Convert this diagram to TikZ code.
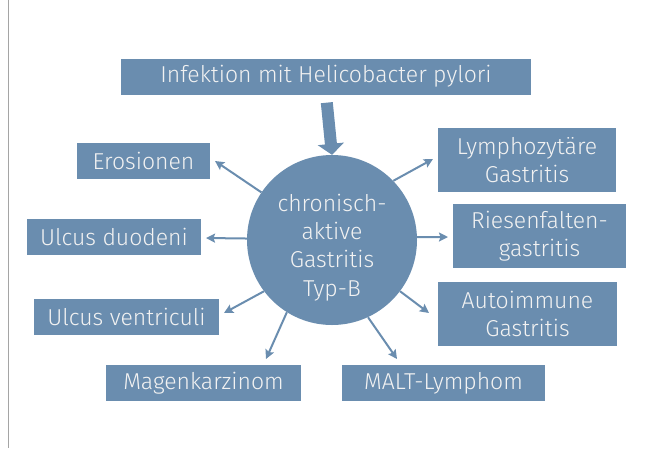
\documentclass[tikz,border=0pt]{standalone}
\usepackage{fontspec}
\setmainfont{Fira Sans Light}
\usetikzlibrary{arrows.meta}
\definecolor{hblue}{RGB}{106,141,175}
\definecolor{hwhite}{RGB}{242,242,242}
\definecolor{hgrey}{RGB}{165,165,165}
\tikzset{
  box/.style={fill=hblue, text=hwhite, inner sep=0pt, align=center,
    font=\fontsize{23}{28.5}\selectfont},
  onebox/.style={box, minimum height=36pt},
  twobox/.style={box, minimum height=64pt},
  hub/.style={circle, fill=hblue, text=hwhite, minimum size=170pt, inner sep=0pt,
    align=center, text height=112pt, text depth=0pt, font=\fontsize{23}{28.3}\selectfont},
  pfeil/.style={draw=hblue, line width=2pt, -{Stealth[length=9pt,width=9pt,inset=1.5pt]}},
}

\begin{document}
\begin{tikzpicture}[x=1pt,y=-1pt]
\useasboundingbox (0,0) rectangle (650,448);
\draw[hgrey, line width=1.5pt] (8.3,0) -- (8.3,448);

\node[onebox, minimum width=410pt] (infekt) at (326,76.5) {Infektion mit Helicobacter pylori};
\node[hub] (gastr) at (332,240) {chronisch-\\aktive\\Gastritis\\Typ-B};

\node[onebox, minimum width=133pt] (eros) at (143.5,161) {Erosionen};
\node[onebox, minimum width=174pt] (duod) at (114,237) {Ulcus duodeni};
\node[onebox, minimum width=185pt] (ventr) at (126.5,317) {Ulcus ventriculi};
\node[onebox, minimum width=195pt] (karz) at (203.5,383) {Magenkarzinom};
\node[twobox, minimum width=178pt] (lymph) at (527,160) {Lymphozytäre\\Gastritis};
\node[twobox, minimum width=173pt] (riesen) at (539.5,236) {Riesenfalten-\\gastritis};
\node[twobox, minimum width=179pt] (auto) at (527.5,314) {Autoimmune\\Gastritis};
\node[onebox, minimum width=203pt] (malt) at (443.5,383) {MALT-Lymphom};

\coordinate (eros-t) at (215,161);
\coordinate (duod-t) at (206,238);
\coordinate (ventr-t) at (224,313);
\coordinate (karz-t) at (266,359);
\coordinate (lymph-t) at (433,159);
\coordinate (riesen-t) at (448,237);
\coordinate (auto-t) at (429,313);
\coordinate (malt-t) at (397,359);

\draw[hblue, line width=12pt, shorten <=8pt, -{Triangle[length=11pt,width=26pt]}]
  (infekt.south) -- (gastr.north);

\draw[pfeil] (gastr.146) -- (eros-t);
\draw[pfeil] (gastr.179) -- (duod-t);
\draw[pfeil] (gastr.217) -- (ventr-t);
\draw[pfeil] (gastr.238) -- (karz-t);
\draw[pfeil] (gastr.44) -- (lymph-t);
\draw[pfeil] (gastr.2) -- (riesen-t);
\draw[pfeil] (gastr.-37) -- (auto-t);
\draw[pfeil] (gastr.-65) -- (malt-t);
\end{tikzpicture}
\end{document}
